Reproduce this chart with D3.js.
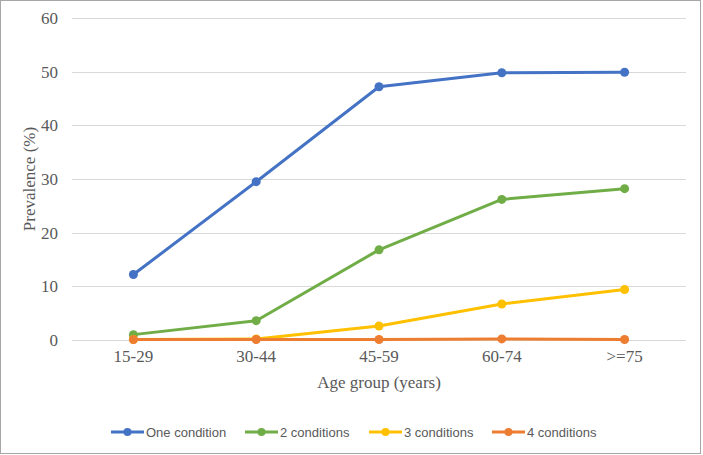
<!DOCTYPE html>
<html lang="en">
<head>
<meta charset="utf-8">
<title>Prevalence by age group</title>
<style>
  body { margin: 0; background: #fff; }
  svg { display: block; }
  .tick text { font-family: "Liberation Serif", "Times New Roman", serif; font-size: 17px; fill: #595959; }
  .axis-title { font-family: "Liberation Serif", "Times New Roman", serif; font-size: 17px; fill: #595959; }
  .legend text { font-family: "Liberation Sans", Arial, sans-serif; font-size: 13px; fill: #595959; }
</style>
<script src="https://cdn.jsdelivr.net/npm/d3@7"></script>
</head>
<body>
<div id="chart"></div>
<script>
var ageGroups = ['15-29', '30-44', '45-59', '60-74', '>=75'];
var seriesNames = ['One condition', '2 conditions', '3 conditions', '4 conditions'];
var seriesColors = ['#4472c4', '#70ad47', '#ffc000', '#ed7d31'];
var oneCondition = [12.2, 29.5, 47.2, 49.8, 49.9];
var twoConditions = [1.0, 3.6, 16.8, 26.2, 28.2];
var threeConditions = [0.1, 0.2, 2.6, 6.7, 9.4];
var fourConditions = [0.1, 0.1, 0.1, 0.2, 0.1];
var yTicks = [0, 10, 20, 30, 40, 50, 60];

var series = [oneCondition, twoConditions, threeConditions, fourConditions];

var w = 703, h = 455;
var margin = {top: 18, right: 17, bottom: 115, left: 72};

var svg = d3.select('#chart').append('svg')
  .attr('width', w)
  .attr('height', h);

// outer border
svg.append('rect')
  .attr('x', 0.5).attr('y', 0.5)
  .attr('width', w - 3).attr('height', h - 2)
  .attr('fill', '#fff')
  .attr('stroke', '#a6a6a6');

var x = d3.scaleBand()
  .domain(ageGroups)
  .range([margin.left, w - margin.right]);

var y = d3.scaleLinear()
  .domain([0, 60])
  .range([h - margin.bottom, margin.top]);

// gridlines
svg.append('g')
  .selectAll('line')
  .data(yTicks)
  .enter().append('line')
  .attr('x1', margin.left)
  .attr('x2', w - margin.right)
  .attr('y1', function(d) { return Math.round(y(d)) + 0.5; })
  .attr('y2', function(d) { return Math.round(y(d)) + 0.5; })
  .attr('stroke', '#d9d9d9')
  .attr('stroke-width', 1);

// y axis labels
var yAxis = svg.append('g')
  .attr('transform', 'translate(' + (margin.left - 14) + ',0)')
  .call(d3.axisLeft(y).tickValues(yTicks).tickSize(0).tickPadding(0));
yAxis.select('.domain').remove();

// x axis labels
var xAxis = svg.append('g')
  .attr('transform', 'translate(0,' + (h - margin.bottom) + ')')
  .call(d3.axisBottom(x).tickSize(0).tickPadding(10));
xAxis.select('.domain').remove();
xAxis.selectAll('.tick text').attr('dy', '0.71em');

svg.append('text')
  .attr('class', 'axis-title')
  .attr('x', (margin.left + w - margin.right) / 2)
  .attr('y', 388)
  .attr('text-anchor', 'middle')
  .text('Age group (years)');

svg.append('text')
  .attr('class', 'axis-title')
  .attr('transform', 'translate(35,' + ((margin.top + h - margin.bottom) / 2) + ') rotate(-90)')
  .attr('text-anchor', 'middle')
  .text('Prevalence (%)');

var line = d3.line()
  .x(function(d, i) { return x(ageGroups[i]) + x.bandwidth() / 2; })
  .y(function(d) { return y(d); });

var groups = svg.selectAll('.series')
  .data(series)
  .enter().append('g')
  .attr('class', 'series');

groups.append('path')
  .attr('d', function(d) { return line(d); })
  .attr('fill', 'none')
  .attr('stroke', function(d, i) { return seriesColors[i]; })
  .attr('stroke-width', 3)
  .attr('stroke-linejoin', 'round');

groups.each(function(d, si) {
  d3.select(this).selectAll('circle')
    .data(d)
    .enter().append('circle')
    .attr('cx', function(v, i) { return x(ageGroups[i]) + x.bandwidth() / 2; })
    .attr('cy', function(v) { return y(v); })
    .attr('r', 4.5)
    .attr('fill', seriesColors[si]);
});

// legend
var legendX = [111, 245, 369, 492];
var legend = svg.append('g').attr('class', 'legend');
var items = legend.selectAll('g')
  .data(seriesNames)
  .enter().append('g')
  .attr('transform', function(d, i) { return 'translate(' + legendX[i] + ',432)'; });
items.append('line')
  .attr('x1', 0).attr('x2', 33)
  .attr('stroke', function(d, i) { return seriesColors[i]; })
  .attr('stroke-width', 3);
items.append('circle')
  .attr('cx', 16.5).attr('r', 4)
  .attr('fill', function(d, i) { return seriesColors[i]; });
items.append('text')
  .attr('x', 35)
  .attr('dy', '0.35em')
  .text(function(d) { return d; });
</script>
</body>
</html>
